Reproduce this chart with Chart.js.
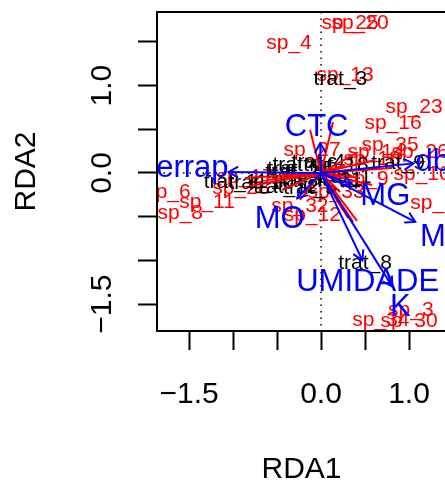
<!DOCTYPE html>
<html>
<head>
<meta charset="utf-8">
<script src="https://cdn.jsdelivr.net/npm/chart.js@4.4.0/dist/chart.umd.min.js"></script>
<style>
  html, body { margin: 0; padding: 0; background: #fff; overflow: hidden; }
  #wrap { width: 450px; height: 481px; }
</style>
</head>
<body>
<div id="wrap"><canvas id="rda" width="450" height="481"></canvas></div>
<script>
// axis ticks (R only printed some of the labels)
const xTicks = [-1.5, -1.0, -0.5, 0, 0.5, 1.0];
const xTickLabels = ['\u22121.5', '', '', '0.0', '', '1.0'];
const yTicks = [-1.5, -1.0, -0.5, 0, 0.5, 1.0, 1.5];
const yTickLabels = ['\u22121.5', '', '', '0.0', '', '1.0', ''];

// environmental variables - arrow tips and label positions
const envNames = ['CTC', 'Serrap', 'MO', 'MG', 'db', 'M', 'UMIDADE', 'K'];
const envX = [-0.01, -1.05, -0.27, 0.35, 1.05, 1.07, 0.47, 0.81];
const envY = [0.34, 0.01, -0.29, -0.13, 0.11, -0.56, -1.00, -1.30];
const envLabX = [-0.05, -1.58, -0.47, 0.73, 1.27, 1.27, 0.53, 0.90];
const envLabY = [0.55, 0.08, -0.50, -0.24, 0.15, -0.71, -1.22, -1.51];

// site scores (black)
const siteNames = ['trat_3', 'trat_8', 'trat_9', 'trat_11', 'trat_10', 'trat_12', 'trat_7', 'trat_16',
                   'trat_4', 'trat_18', 'trat_2', 'trat_21', 'trat_1', 'trat_5', 'trat_15'];
const siteX = [0.22, 0.50, 0.875, -0.97, -0.68, -0.40, -0.24, -0.18, -0.03, 0.17, -0.33, 0.10, 0.27, -0.125, -0.24];
const siteY = [1.09, -1.01, 0.126, -0.09, -0.10, -0.14, -0.08, 0.11, 0.14, 0.11, 0.03, -0.06, -0.03, -0.15, 0.06];

// species scores (red text)
const spNames = ['sp_25', 'sp_20', 'sp_4', 'sp_13', 'sp_23', 'sp_16', 'sp_27', 'sp_35', 'sp_26', 'sp_14',
                 'sp_18', 'sp_10', 'sp_9', 'sp_22', 'sp_33', 'sp_32', 'sp_12', 'sp_17', 'sp_28', 'sp_6',
                 'sp_11', 'sp_8', 'sp_34', 'sp_30', 'sp_3'];
const spX = [0.33, 0.443, -0.364, 0.273, 1.057, 0.818, -0.102, 0.784, 1.125, 0.625,
             0.58, 1.148, 0.511, 1.34, 0.17, -0.24, -0.10, -0.864, -0.91, -1.74,
             -1.295, -1.60, 0.68, 1.0, 1.02];
const spY = [1.728, 1.728, 1.499, 1.133, 0.767, 0.584, 0.286, 0.332, 0.263, 0.263,
             0.172, 0.011, -0.046, -0.33, -0.195, -0.366, -0.458, -0.034, -0.16, -0.195,
             -0.32, -0.435, -1.66, -1.68, -1.556];

// species lines from the origin
const spLineX = [-0.125, 0.136, 0.25, 0.307, 0.364, 0.409, 0.614, 0.807, 0.58, 0.443,
                 -0.864, -0.807, -0.602, -0.443, -0.239, 0.216, 0.273, 0.42];
const spLineY = [0.492, 0.584, -0.423, -0.515, -0.561, -0.549, 0.149, 0.057, -0.137, -0.057,
                 -0.057, -0.149, -0.08, -0.195, -0.309, -0.217, 0.092, 0.24];

const FONT = '"Liberation Sans", Arial, Helvetica, sans-serif';

function segment(x, y, color) {
  return {
    data: [{x: 0, y: 0}, {x: x, y: y}],
    showLine: true,
    borderColor: color,
    borderWidth: 2,
    pointRadius: 0,
    fill: false
  };
}

// datasets: first ones are drawn on top
const datasets = [];
envX.forEach((v, i) => datasets.push(segment(v, envY[i], '#0000ff')));
spLineX.forEach((v, i) => datasets.push(segment(v, spLineY[i], '#ff0000')));

function drawLabels(ctx, xs, ys, names, px, py, color, size) {
  ctx.font = size + 'px ' + FONT;
  ctx.fillStyle = color;
  ctx.textAlign = 'center';
  ctx.textBaseline = 'alphabetic';
  names.forEach((n, i) => {
    ctx.fillText(n, xs.getPixelForValue(px[i]), ys.getPixelForValue(py[i]) + size * 0.716 / 2);
  });
}

const rdaPlot = {
  id: 'rdaPlot',
  beforeDatasetsDraw(chart) {
    const {ctx, chartArea: a, scales: {x, y}} = chart;
    ctx.save();
    ctx.beginPath();
    ctx.rect(a.left, a.top, a.right - a.left, a.bottom - a.top);
    ctx.clip();
    // dotted lines through the origin
    ctx.strokeStyle = '#000';
    ctx.lineWidth = 1.5;
    ctx.setLineDash([1.5, 5]);
    ctx.beginPath();
    ctx.moveTo(x.getPixelForValue(0), a.top);
    ctx.lineTo(x.getPixelForValue(0), a.bottom);
    ctx.moveTo(a.left, y.getPixelForValue(0));
    ctx.lineTo(a.right, y.getPixelForValue(0));
    ctx.stroke();
    ctx.setLineDash([]);
    drawLabels(ctx, x, y, spNames, spX, spY, '#ff0000', 21);
    drawLabels(ctx, x, y, siteNames, siteX, siteY, '#000', 21);
    ctx.restore();
  },
  afterDatasetsDraw(chart) {
    const {ctx, chartArea: a, scales: {x, y}} = chart;
    ctx.save();
    ctx.beginPath();
    ctx.rect(a.left, a.top, a.right - a.left, a.bottom - a.top);
    ctx.clip();
    // arrow heads
    const ox = x.getPixelForValue(0), oy = y.getPixelForValue(0);
    ctx.strokeStyle = '#0000ff';
    ctx.lineWidth = 2;
    envX.forEach((v, i) => {
      const tx = x.getPixelForValue(v), ty = y.getPixelForValue(envY[i]);
      const ang = Math.atan2(ty - oy, tx - ox);
      const len = 11, spread = Math.PI / 6;
      ctx.beginPath();
      ctx.moveTo(tx - len * Math.cos(ang - spread), ty - len * Math.sin(ang - spread));
      ctx.lineTo(tx, ty);
      ctx.lineTo(tx - len * Math.cos(ang + spread), ty - len * Math.sin(ang + spread));
      ctx.stroke();
    });
    drawLabels(ctx, x, y, envNames, envLabX, envLabY, '#0000ff', 31);
    ctx.restore();

    // box
    ctx.save();
    ctx.strokeStyle = '#000';
    ctx.lineWidth = 2;
    ctx.strokeRect(a.left, a.top, a.right - a.left, a.bottom - a.top);

    // tick labels
    ctx.fillStyle = '#000';
    ctx.font = '30px ' + FONT;
    ctx.textAlign = 'center';
    ctx.textBaseline = 'alphabetic';
    const cap = 30 * 0.716;
    xTicks.forEach((v, i) => {
      if (xTickLabels[i]) ctx.fillText(xTickLabels[i], x.getPixelForValue(v), 392 + cap / 2);
    });
    yTicks.forEach((v, i) => {
      if (!yTickLabels[i]) return;
      ctx.save();
      ctx.translate(100, y.getPixelForValue(v));
      ctx.rotate(-Math.PI / 2);
      ctx.fillText(yTickLabels[i], 0, cap / 2);
      ctx.restore();
    });
    // axis titles
    ctx.fillText('RDA1', (a.left + a.right) / 2, 467 + cap / 2);
    ctx.save();
    ctx.translate(24, (a.top + a.bottom) / 2);
    ctx.rotate(-Math.PI / 2);
    ctx.fillText('RDA2', 0, cap / 2);
    ctx.restore();
    ctx.restore();
  }
};

function axis(min, max, ticks) {
  return {
    type: 'linear',
    min: min,
    max: max,
    afterBuildTicks: s => { s.ticks = ticks.map(v => ({value: v})); },
    ticks: {display: false},
    grid: {drawOnChartArea: false, drawTicks: true, tickLength: 19, tickWidth: 2, tickColor: '#000'},
    border: {display: true, color: '#000', width: 2}
  };
}

new Chart(document.getElementById('rda'), {
  type: 'scatter',
  data: {datasets: datasets},
  options: {
    responsive: false,
    animation: false,
    layout: {padding: {left: 138, top: 12, right: 4, bottom: 131}},
    plugins: {legend: {display: false}, tooltip: {enabled: false}},
    scales: {
      x: axis(-1.864, 1.42, xTicks),
      y: axis(-1.808, 1.842, yTicks)
    }
  },
  plugins: [rdaPlot]
});
</script>
</body>
</html>
